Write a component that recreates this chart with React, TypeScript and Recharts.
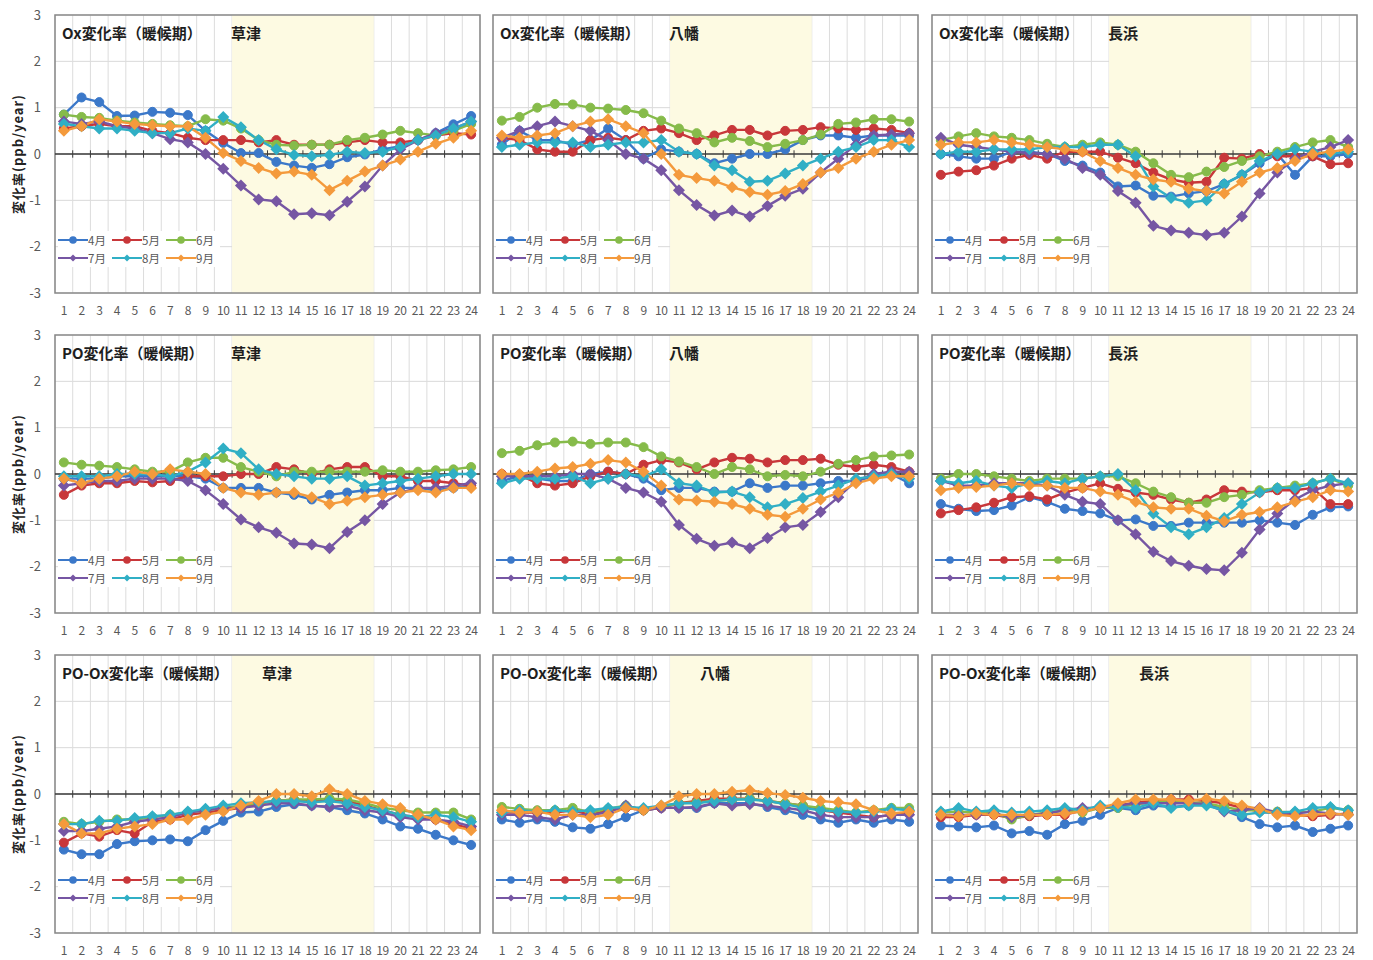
import React from "react";
import {
  LineChart,
  Line,
  XAxis,
  YAxis,
  CartesianGrid,
  ReferenceArea,
  ReferenceLine,
  Legend,
} from "recharts";

const hours = [1, 2, 3, 4, 5, 6, 7, 8, 9, 10, 11, 12, 13, 14, 15, 16, 17, 18, 19, 20, 21, 22, 23, 24];
const months = ["4月", "5月", "6月", "7月", "8月", "9月"];
const monthColors = ["#3B78C9", "#C8373A", "#86BB4A", "#7656A3", "#30AFC5", "#F49A3C"];
const yTicks = [-3, -2, -1, 0, 1, 2, 3];

// rows: 4月 .. 9月, columns: hour 1 .. 24
const oxKusatsu = [
  [0.85, 1.22, 1.12, 0.82, 0.83, 0.91, 0.89, 0.84, 0.5, 0.24, 0.02, 0.02, -0.17, -0.25, -0.3, -0.22, -0.07, -0.01, 0.1, 0.17, 0.3, 0.45, 0.64, 0.82],
  [0.55, 0.6, 0.65, 0.6, 0.6, 0.5, 0.45, 0.35, 0.3, 0.3, 0.3, 0.25, 0.3, 0.2, 0.2, 0.2, 0.25, 0.3, 0.25, 0.25, 0.3, 0.4, 0.45, 0.42],
  [0.85, 0.8, 0.78, 0.72, 0.68, 0.65, 0.62, 0.6, 0.75, 0.72, 0.55, 0.3, 0.2, 0.18, 0.2, 0.2, 0.3, 0.35, 0.42, 0.5, 0.45, 0.4, 0.5, 0.65],
  [0.7, 0.65, 0.7, 0.6, 0.55, 0.45, 0.32, 0.25, 0, -0.32, -0.68, -0.98, -1.02, -1.3, -1.28, -1.32, -1.03, -0.7, -0.25, 0.1, 0.3, 0.45, 0.55, 0.7],
  [0.65, 0.6, 0.55, 0.55, 0.5, 0.45, 0.45, 0.55, 0.5, 0.8, 0.58, 0.3, 0.1, -0.02, -0.05, -0.02, 0.05, 0.02, 0.05, 0.15, 0.3, 0.4, 0.55, 0.7],
  [0.5, 0.6, 0.75, 0.7, 0.65, 0.62, 0.6, 0.6, 0.35, 0.02, -0.15, -0.3, -0.42, -0.38, -0.45, -0.78, -0.58, -0.38, -0.25, -0.12, 0.05, 0.22, 0.35, 0.5],
];

const oxYawata = [
  [0.2, 0.5, 0.3, 0.3, 0.2, 0.3, 0.55, 0.3, -0.1, 0.1, 0.05, 0, -0.2, -0.1, 0, 0, 0.1, 0.3, 0.4, 0.4, 0.35, 0.4, 0.4, 0.4],
  [0.35, 0.3, 0.1, 0.05, 0.05, 0.3, 0.35, 0.3, 0.5, 0.55, 0.45, 0.3, 0.4, 0.52, 0.52, 0.4, 0.5, 0.52, 0.58, 0.55, 0.52, 0.55, 0.52, 0.45],
  [0.72, 0.8, 1.0, 1.08, 1.07, 1.0, 0.98, 0.95, 0.88, 0.72, 0.55, 0.45, 0.25, 0.35, 0.28, 0.15, 0.22, 0.3, 0.42, 0.65, 0.68, 0.75, 0.75, 0.7],
  [0.35, 0.5, 0.6, 0.7, 0.6, 0.5, 0.3, 0, -0.1, -0.35, -0.78, -1.1, -1.33, -1.22, -1.35, -1.12, -0.9, -0.75, -0.4, -0.1, 0.2, 0.4, 0.42, 0.45],
  [0.15, 0.2, 0.25, 0.25, 0.25, 0.15, 0.2, 0.25, 0.25, 0.3, 0.05, 0, -0.25, -0.35, -0.6, -0.58, -0.42, -0.25, -0.1, 0.05, 0.15, 0.3, 0.3, 0.15],
  [0.4, 0.35, 0.4, 0.45, 0.6, 0.7, 0.75, 0.6, 0.45, 0, -0.45, -0.52, -0.58, -0.72, -0.82, -0.88, -0.8, -0.65, -0.4, -0.3, -0.1, 0.05, 0.2, 0.3],
];

const oxNagahama = [
  [0, -0.05, -0.1, -0.1, 0.05, 0.05, 0, -0.15, -0.25, -0.4, -0.7, -0.68, -0.9, -0.92, -0.85, -0.8, -0.65, -0.45, -0.2, 0, -0.45, -0.05, -0.05, 0],
  [-0.45, -0.38, -0.35, -0.25, -0.1, -0.02, -0.1, 0.05, 0.05, 0.05, -0.08, -0.2, -0.4, -0.55, -0.62, -0.6, -0.08, -0.1, 0, -0.05, -0.05, -0.05, -0.22, -0.2],
  [0.3, 0.38, 0.45, 0.38, 0.35, 0.3, 0.22, 0.15, 0.2, 0.25, 0.2, 0.05, -0.2, -0.45, -0.5, -0.38, -0.28, -0.15, -0.05, 0.05, 0.15, 0.25, 0.3, 0.15],
  [0.35, 0.2, 0.15, 0.1, 0.05, 0.02, 0, -0.1, -0.3, -0.45, -0.8, -1.05, -1.55, -1.65, -1.7, -1.75, -1.7, -1.35, -0.85, -0.4, -0.1, 0.05, 0.15, 0.3],
  [0, 0.05, 0.05, 0.1, 0.1, 0.1, 0.15, 0.15, 0.15, 0.2, 0.2, -0.05, -0.7, -0.95, -1.05, -1.0, -0.65, -0.45, -0.15, 0, 0.1, 0.05, 0, 0.05],
  [0.2, 0.25, 0.25, 0.3, 0.25, 0.2, 0.15, 0.1, 0.05, -0.15, -0.3, -0.45, -0.55, -0.6, -0.75, -0.8, -0.85, -0.6, -0.4, -0.3, -0.15, 0, 0.05, 0.1],
];

const poKusatsu = [
  [-0.1, -0.1, -0.1, -0.05, -0.05, -0.05, -0.05, -0.05, -0.1, -0.3, -0.3, -0.3, -0.4, -0.45, -0.55, -0.45, -0.4, -0.35, -0.35, -0.3, -0.3, -0.35, -0.3, -0.25],
  [-0.45, -0.25, -0.2, -0.2, -0.15, -0.18, -0.15, -0.05, -0.05, -0.05, 0, 0, 0.15, 0.1, 0, 0.1, 0.15, 0.15, -0.05, -0.05, -0.15, -0.15, -0.2, -0.25],
  [0.25, 0.2, 0.18, 0.15, 0.1, 0.05, 0.05, 0.25, 0.35, 0.35, 0.15, 0.05, -0.05, 0.05, 0.05, 0.05, 0.05, 0.05, 0.08, 0.05, 0.05, 0.08, 0.1, 0.15],
  [-0.25, -0.2, -0.15, -0.15, -0.1, -0.1, -0.1, -0.15, -0.35, -0.65, -0.98, -1.15, -1.27, -1.5, -1.52, -1.6, -1.25, -1.0, -0.65, -0.4, -0.3, -0.3, -0.25, -0.2],
  [-0.05, -0.05, -0.05, 0, 0, 0, -0.05, 0.05, 0.25, 0.55, 0.45, 0.1, 0, -0.05, -0.1, -0.1, -0.05, -0.25, -0.2, -0.15, -0.1, -0.05, 0, 0],
  [-0.1, -0.2, -0.1, -0.05, 0.05, 0, 0.1, 0.05, 0, -0.3, -0.4, -0.45, -0.4, -0.4, -0.5, -0.65, -0.58, -0.5, -0.45, -0.4, -0.35, -0.4, -0.3, -0.3],
];

const poYawata = [
  [-0.15, -0.05, -0.1, -0.15, -0.15, 0, 0.05, 0, -0.1, -0.35, -0.3, -0.3, -0.38, -0.38, -0.2, -0.3, -0.25, -0.25, -0.2, -0.15, -0.15, -0.05, 0, -0.2],
  [0, -0.02, -0.2, -0.25, -0.2, -0.05, 0.05, 0, 0.2, 0.3, 0.25, 0.1, 0.25, 0.35, 0.33, 0.25, 0.3, 0.3, 0.33, 0.2, 0.15, 0.2, 0.15, 0.05],
  [0.45, 0.5, 0.62, 0.68, 0.7, 0.65, 0.68, 0.68, 0.58, 0.38, 0.27, 0.15, 0, 0.15, 0.1, -0.05, -0.02, -0.05, 0.05, 0.22, 0.3, 0.38, 0.4, 0.42],
  [-0.05, -0.05, -0.05, -0.05, 0, 0, -0.1, -0.3, -0.4, -0.6, -1.1, -1.4, -1.55, -1.48, -1.6, -1.38, -1.15, -1.1, -0.82, -0.5, -0.15, 0, 0.05, 0.05],
  [-0.2, -0.1, -0.1, -0.1, -0.05, -0.2, -0.1, 0, -0.05, 0.1, -0.2, -0.25, -0.4, -0.38, -0.5, -0.72, -0.65, -0.52, -0.38, -0.25, -0.1, -0.05, 0, -0.1],
  [0, 0, 0.05, 0.12, 0.15, 0.22, 0.3, 0.25, 0.05, -0.25, -0.55, -0.57, -0.6, -0.65, -0.75, -0.88, -0.92, -0.75, -0.55, -0.4, -0.2, -0.1, -0.05, -0.05],
];

const poNagahama = [
  [-0.65, -0.75, -0.8, -0.78, -0.68, -0.5, -0.6, -0.75, -0.8, -0.85, -1.0, -0.98, -1.12, -1.12, -1.05, -1.05, -1.05, -1.05, -1.0, -1.05, -1.1, -0.88, -0.72, -0.7],
  [-0.85, -0.78, -0.72, -0.62, -0.5, -0.48, -0.55, -0.4, -0.3, -0.2, -0.32, -0.4, -0.45, -0.55, -0.62, -0.55, -0.35, -0.38, -0.4, -0.35, -0.35, -0.3, -0.65, -0.65],
  [-0.1, 0, 0, -0.05, -0.1, -0.15, -0.1, -0.1, -0.1, -0.05, -0.05, -0.2, -0.38, -0.5, -0.62, -0.62, -0.5, -0.45, -0.35, -0.3, -0.25, -0.2, -0.1, -0.25],
  [-0.15, -0.25, -0.25, -0.2, -0.2, -0.2, -0.25, -0.45, -0.6, -0.65, -1.0, -1.3, -1.68, -1.88, -1.98, -2.05, -2.08, -1.7, -1.2, -0.85, -0.55, -0.35, -0.25, -0.2],
  [-0.15, -0.2, -0.15, -0.25, -0.3, -0.2, -0.15, -0.2, -0.1, -0.05, 0, -0.35, -0.85, -1.15, -1.3, -1.15, -0.95, -0.65, -0.4, -0.3, -0.3, -0.2, -0.1, -0.2],
  [-0.35, -0.3, -0.28, -0.25, -0.2, -0.25, -0.25, -0.3, -0.3, -0.38, -0.45, -0.6, -0.72, -0.75, -0.75, -0.9, -1.02, -0.88, -0.82, -0.72, -0.6, -0.5, -0.35, -0.38],
];

const poOxKusatsu = [
  [-1.2, -1.3, -1.3, -1.08, -1.02, -1.0, -0.98, -1.02, -0.78, -0.58, -0.4, -0.38, -0.28, -0.22, -0.25, -0.28, -0.35, -0.42, -0.55, -0.7, -0.75, -0.88, -1.0, -1.1],
  [-1.05, -0.85, -0.92, -0.78, -0.85, -0.6, -0.55, -0.45, -0.4, -0.35, -0.3, -0.2, -0.15, -0.12, -0.15, -0.12, -0.15, -0.25, -0.35, -0.45, -0.5, -0.55, -0.65, -0.75],
  [-0.6, -0.65, -0.6, -0.55, -0.55, -0.5, -0.45, -0.4, -0.35, -0.3, -0.25, -0.2, -0.15, -0.12, -0.12, -0.1, -0.12, -0.2, -0.3, -0.35, -0.4, -0.4, -0.4, -0.55],
  [-0.8, -0.8, -0.75, -0.7, -0.6, -0.55, -0.5, -0.4, -0.35, -0.3, -0.3, -0.25, -0.2, -0.2, -0.25, -0.28, -0.25, -0.35, -0.4, -0.5, -0.55, -0.55, -0.6, -0.7],
  [-0.65, -0.65, -0.58, -0.58, -0.52, -0.48, -0.45, -0.38, -0.32, -0.25, -0.2, -0.18, -0.15, -0.15, -0.18, -0.15, -0.2, -0.28, -0.35, -0.45, -0.5, -0.45, -0.5, -0.6],
  [-0.65, -0.85, -0.85, -0.75, -0.7, -0.65, -0.55, -0.55, -0.45, -0.38, -0.25, -0.15, 0, 0, -0.05, 0.1, 0, -0.15, -0.22, -0.3, -0.45, -0.55, -0.7, -0.78],
];

const poOxYawata = [
  [-0.55, -0.62, -0.55, -0.6, -0.72, -0.75, -0.65, -0.5, -0.35, -0.3, -0.3, -0.3, -0.2, -0.2, -0.2, -0.28, -0.35, -0.45, -0.55, -0.62, -0.55, -0.62, -0.55, -0.6],
  [-0.4, -0.4, -0.4, -0.4, -0.35, -0.45, -0.35, -0.3, -0.35, -0.3, -0.2, -0.15, -0.1, -0.1, -0.1, -0.15, -0.2, -0.25, -0.35, -0.4, -0.45, -0.5, -0.45, -0.4],
  [-0.28, -0.32, -0.35, -0.35, -0.3, -0.4, -0.32, -0.25, -0.35, -0.28, -0.2, -0.18, -0.15, -0.12, -0.1, -0.15, -0.2, -0.25, -0.3, -0.35, -0.4, -0.35, -0.3, -0.3],
  [-0.45, -0.45, -0.5, -0.55, -0.45, -0.45, -0.4, -0.25, -0.35, -0.3, -0.3, -0.28, -0.2, -0.25, -0.22, -0.25, -0.3, -0.35, -0.45, -0.5, -0.5, -0.5, -0.45, -0.45],
  [-0.4, -0.35, -0.38, -0.35, -0.38, -0.35, -0.3, -0.28, -0.3, -0.25, -0.2, -0.2, -0.15, -0.12, -0.12, -0.15, -0.22, -0.3, -0.35, -0.38, -0.4, -0.38, -0.32, -0.35],
  [-0.35, -0.4, -0.38, -0.45, -0.45, -0.5, -0.45, -0.3, -0.35, -0.25, -0.05, 0, 0, 0.05, 0.08, 0.02, -0.02, -0.08, -0.15, -0.18, -0.22, -0.35, -0.42, -0.38],
];

const poOxNagahama = [
  [-0.68, -0.7, -0.72, -0.68, -0.85, -0.8, -0.88, -0.65, -0.58, -0.45, -0.3, -0.35, -0.25, -0.28, -0.25, -0.2, -0.35, -0.5, -0.65, -0.72, -0.68, -0.82, -0.75, -0.68],
  [-0.5, -0.5, -0.45, -0.45, -0.52, -0.48, -0.45, -0.45, -0.35, -0.3, -0.25, -0.18, -0.15, -0.12, -0.12, -0.15, -0.2, -0.3, -0.38, -0.42, -0.45, -0.48, -0.45, -0.42],
  [-0.4, -0.38, -0.4, -0.4, -0.55, -0.45, -0.4, -0.35, -0.4, -0.3, -0.3, -0.22, -0.18, -0.15, -0.18, -0.2, -0.28, -0.35, -0.35, -0.38, -0.4, -0.38, -0.3, -0.35],
  [-0.45, -0.45, -0.45, -0.42, -0.5, -0.45, -0.42, -0.35, -0.3, -0.3, -0.25, -0.2, -0.2, -0.2, -0.2, -0.22, -0.38, -0.35, -0.3, -0.4, -0.42, -0.38, -0.42, -0.45],
  [-0.38, -0.3, -0.38, -0.35, -0.4, -0.38, -0.35, -0.3, -0.35, -0.25, -0.28, -0.3, -0.2, -0.3, -0.25, -0.25, -0.35, -0.45, -0.4, -0.4, -0.38, -0.3, -0.28, -0.35],
  [-0.45, -0.48, -0.42, -0.45, -0.45, -0.45, -0.45, -0.42, -0.38, -0.3, -0.2, -0.12, -0.12, -0.12, -0.15, -0.1, -0.15, -0.25, -0.32, -0.45, -0.48, -0.45, -0.42, -0.45],
];

const FONT = '"Noto Sans CJK JP", "Noto Sans", sans-serif';
const COL_LEFT = [55, 493, 932];
const ROW_TOP = [15, 335, 655];
const PLOT_W = 425;
const PLOT_H = 278;
// hour boundaries (between categories) and the daytime band
const boundaries = hours.slice(0, -1).map((h) => h + 0.5);
const dayStart = 10.5;
const dayEnd = 18.5;

const Diamond = (props: any) => {
  const { cx, cy, fill, size, index } = props;
  if (cx == null || cy == null) return null;
  const s = size ?? 6;
  return (
    <path
      key={`dm-${index}`}
      d={`M${cx},${cy - s}L${cx + s},${cy}L${cx},${cy + s}L${cx - s},${cy}Z`}
      fill={fill}
    />
  );
};

const MonthLegend = () => (
  <div style={{ display: "flex", flexWrap: "wrap", width: 162, background: "#fff", fontFamily: FONT }}>
    {months.map((m, i) => (
      <div key={m} style={{ display: "flex", alignItems: "center", width: 54, height: 18 }}>
        <svg width={30} height={12}>
          <line x1={0} x2={30} y1={6} y2={6} stroke={monthColors[i]} strokeWidth={2} />
          {i < 3 ? (
            <circle cx={15} cy={6} r={3.8} fill={monthColors[i]} />
          ) : (
            <Diamond cx={15} cy={6} size={3.5} fill={monthColors[i]} />
          )}
        </svg>
        <span style={{ fontSize: 11.5, color: "#595959", lineHeight: "12px" }}>{m}</span>
      </div>
    ))}
  </div>
);

interface PanelProps {
  series: number[][];
  title: string;
  station: string;
  col: number;
  row: number;
}

const Panel = ({ series, title, station, col, row }: PanelProps) => {
  const boxLeft = COL_LEFT[col];
  const boxTop = ROW_TOP[row];
  const showY = col === 0;
  const chartLeft = showY ? 0 : boxLeft - 10;
  const marginLeft = showY ? 5 : 10;
  const width = boxLeft - chartLeft + PLOT_W + 10;
  const height = 10 + PLOT_H + 25 + 5;

  const data = hours.map((h, i) => {
    const rowData: any = { hour: h };
    months.forEach((m, k) => {
      rowData[m] = series[k][i];
    });
    return rowData;
  });

  return (
    <>
      <div style={{ position: "absolute", left: chartLeft, top: boxTop - 10 }}>
        <LineChart
          width={width}
          height={height}
          data={data}
          margin={{ top: 10, right: 10, bottom: 5, left: marginLeft }}
        >
          <CartesianGrid vertical={false} stroke="#d9d9d9" />
          {boundaries.map((b) => (
            <ReferenceLine key={`g${b}`} x={b} stroke="#dcdcdc" zIndex={-100} />
          ))}
          <ReferenceArea x1={dayStart} x2={dayEnd} y1={-3} y2={3} fill="#FDFAE2" fillOpacity={1} stroke="none" zIndex={-50} />
          <ReferenceArea x1={0.5} x2={24.5} y1={-3} y2={3} fill="none" stroke="#8a8a8a" strokeWidth={1.6} zIndex={-40} />
          <ReferenceLine y={0} stroke="#3a3a3a" strokeWidth={1.3} zIndex={-30} />
          {boundaries.map((b) => (
            <ReferenceLine
              key={`t${b}`}
              segment={[{ x: b, y: -0.08 }, { x: b, y: 0.08 }]}
              stroke="#3a3a3a"
              zIndex={-30}
            />
          ))}
          <XAxis
            dataKey="hour"
            type="number"
            domain={[0.5, 24.5]}
            ticks={hours}
            interval={0}
            axisLine={false}
            tickLine={false}
            tickSize={6}
            tickMargin={7}
            height={25}
            tick={{ fontSize: 12, fill: "#595959", fontFamily: FONT, letterSpacing: -0.4 }}
          />
          {showY ? (
            <YAxis
              domain={[-3, 3]}
              ticks={yTicks}
              interval={0}
              width={50}
              axisLine={false}
              tickLine={false}
              tickSize={6}
              tickMargin={8}
              tick={{ fontSize: 13, fill: "#595959", fontFamily: FONT }}
              label={{
                value: "変化率(ppb/year)",
                angle: -90,
                position: "insideLeft",
                offset: 13,
                style: { textAnchor: "middle", fontSize: 13, fontWeight: 700, fill: "#222", fontFamily: FONT, letterSpacing: 1 },
              }}
            />
          ) : (
            <YAxis hide domain={[-3, 3]} ticks={yTicks} />
          )}
          <Legend
            layout="horizontal"
            align="center"
            verticalAlign="middle"
            content={() => <MonthLegend />}
            wrapperStyle={{ left: boxLeft - chartLeft + 3, top: 226, width: 162, height: 36 }}
          />
          {months.map((m, i) => (
            <Line
              key={m}
              type="linear"
              dataKey={m}
              stroke={monthColors[i]}
              strokeWidth={2.4}
              isAnimationActive={false}
              dot={
                i < 3
                  ? { r: 4.5, fill: monthColors[i], stroke: monthColors[i], strokeWidth: 1 }
                  : (p: any) => <Diamond {...p} fill={monthColors[i]} size={6} />
              }
              activeDot={false}
            />
          ))}
        </LineChart>
      </div>
      <div
        style={{
          position: "absolute",
          left: boxLeft + 7,
          top: boxTop + 9,
          fontFamily: FONT,
          fontSize: 15,
          fontWeight: 700,
          lineHeight: "18px",
          color: "#1e1e1e",
          whiteSpace: "nowrap",
        }}
      >
        {title}
      </div>
      <div
        style={{
          position: "absolute",
          left: boxLeft + (row === 2 ? 207 : 176),
          top: boxTop + 9,
          fontFamily: FONT,
          fontSize: 15,
          fontWeight: 700,
          lineHeight: "18px",
          color: "#1e1e1e",
        }}
      >
        {station}
      </div>
    </>
  );
};

const panels = [
  { series: oxKusatsu, title: "Ox変化率（暖候期）", station: "草津", col: 0, row: 0 },
  { series: oxYawata, title: "Ox変化率（暖候期）", station: "八幡", col: 1, row: 0 },
  { series: oxNagahama, title: "Ox変化率（暖候期）", station: "長浜", col: 2, row: 0 },
  { series: poKusatsu, title: "PO変化率（暖候期）", station: "草津", col: 0, row: 1 },
  { series: poYawata, title: "PO変化率（暖候期）", station: "八幡", col: 1, row: 1 },
  { series: poNagahama, title: "PO変化率（暖候期）", station: "長浜", col: 2, row: 1 },
  { series: poOxKusatsu, title: "PO-Ox変化率（暖候期）", station: "草津", col: 0, row: 2 },
  { series: poOxYawata, title: "PO-Ox変化率（暖候期）", station: "八幡", col: 1, row: 2 },
  { series: poOxNagahama, title: "PO-Ox変化率（暖候期）", station: "長浜", col: 2, row: 2 },
];

export default function App() {
  return (
    <div style={{ position: "absolute", left: 0, top: 0, width: 1373, height: 960, background: "#fff" }}>
      {panels.map((p) => (
        <Panel key={`${p.row}-${p.col}`} {...p} />
      ))}
    </div>
  );
}
